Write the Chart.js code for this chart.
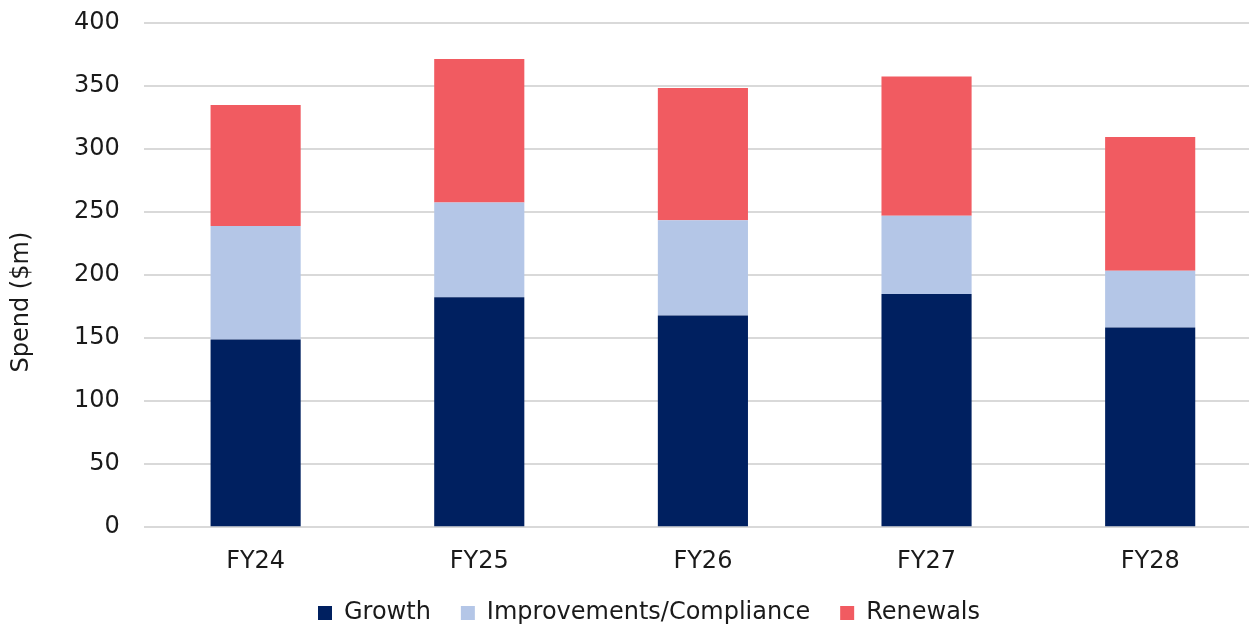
<!DOCTYPE html>
<html>
<head>
<meta charset="utf-8">
<script src="https://cdn.jsdelivr.net/npm/chart.js@4/dist/chart.umd.min.js"></script>
<style>
  html, body { margin: 0; padding: 0; background: #fff; overflow: hidden; }
  #wrap { width: 1262px; height: 624px; position: relative; }
</style>
</head>
<body>
<div id="wrap"><canvas id="spend-chart"></canvas></div>
<script>
// Capital spend by category, $m
const years = ['FY24', 'FY25', 'FY26', 'FY27', 'FY28'];
const growth = [149, 182.5, 168, 185, 158.5];
const improvements = [90, 75, 75.5, 62, 45];
const renewals = [96, 114, 105, 110.5, 106];
const yTicks = [0, 50, 100, 150, 200, 250, 300, 350, 400];
const yTitle = 'Spend ($m)';

const fontFamily = "'DejaVu Sans', Verdana, sans-serif";
const textColor = '#1a1a1a';
const fontSize = 24;

// nudge the legend row a little to the right of the canvas centre
const legendShift = {
    id: 'legendShift',
    afterLayout(chart) {
        if (!chart.legend) return;
        chart.legend.left += 17;
        chart.legend.right += 17;
    }
};

// rotated y-axis title, sitting a bit below the middle of the axis
const axisTitle = {
    id: 'axisTitle',
    afterDraw(chart) {
        const c = chart.ctx;
        const area = chart.chartArea;
        c.save();
        c.translate(22, (area.top + area.bottom) / 2 + 27);
        c.rotate(-Math.PI / 2);
        c.font = fontSize + 'px ' + fontFamily;
        c.fillStyle = textColor;
        c.textAlign = 'center';
        c.textBaseline = 'middle';
        c.fillText(yTitle, 0, 0);
        c.restore();
    }
};

const ctx = document.getElementById('spend-chart').getContext('2d');
new Chart(ctx, {
    type: 'bar',
    data: {
        labels: years,
        datasets: [
            { label: 'Growth', data: growth, backgroundColor: '#002060' },
            { label: 'Improvements/Compliance', data: improvements, backgroundColor: '#B4C6E7' },
            { label: 'Renewals', data: renewals, backgroundColor: '#F15B61' }
        ]
    },
    plugins: [legendShift, axisTitle],
    options: {
        responsive: true,
        maintainAspectRatio: false,
        animation: false,
        layout: { padding: { top: 23, left: 2, right: 0, bottom: -11 } },
        datasets: {
            bar: { barPercentage: 1, categoryPercentage: 0.403 }
        },
        plugins: {
            tooltip: { enabled: false },
            legend: {
                position: 'bottom',
                labels: {
                    color: textColor,
                    font: { family: fontFamily, size: fontSize },
                    boxWidth: 14,
                    boxHeight: 14,
                    padding: 30
                }
            }
        },
        scales: {
            x: {
                stacked: true,
                grid: { display: false },
                border: { display: false },
                ticks: {
                    color: textColor,
                    font: { family: fontFamily, size: fontSize },
                    padding: 12
                },
                // pull the legend up closer to the category labels
                afterFit: scale => { scale.height -= 17; }
            },
            y: {
                stacked: true,
                min: 0,
                max: 400,
                afterBuildTicks: axis => {
                    axis.ticks = yTicks.map(v => ({ value: v }));
                },
                // room for the tick gap and the hand-drawn title
                afterFit: scale => { scale.width += 24 + 48; },
                grid: { color: '#d9d9d9', lineWidth: 2, drawTicks: true, tickLength: 24, tickColor: 'transparent' },
                border: { display: false },
                ticks: {
                    color: textColor,
                    font: { family: fontFamily, size: fontSize },
                    padding: 0
                },
                title: { display: false }
            }
        }
    }
});
</script>
</body>
</html>
